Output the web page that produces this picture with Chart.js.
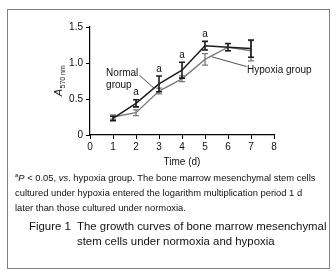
<!DOCTYPE html>
<html><head><meta charset="utf-8">
<script src="https://cdn.jsdelivr.net/npm/chart.js@4.4.0/dist/chart.umd.min.js"></script>
<style>
html,body{margin:0;padding:0;background:#fff;width:336px;height:272px;overflow:hidden;font-family:"Liberation Sans",Arial,sans-serif;}
#frame{position:absolute;left:7px;top:9px;width:321px;height:258px;border:1px solid #808080;}
canvas{position:absolute;left:0;top:0;}
.t{position:absolute;white-space:nowrap;color:#111;}
#foot{left:15px;top:170px;font-size:9.4px;line-height:15px;}
#foot sup{font-size:6px;vertical-align:4px;line-height:0;}
#cap1{left:29px;top:219px;font-size:11.4px;line-height:15px;}
#cap2{left:77px;top:219px;font-size:11.4px;line-height:15px;}
</style></head>
<body>
<div id="frame"></div>
<canvas id="c" width="336" height="272"></canvas>
<div class="t" id="foot"><sup>a</sup><i>P</i> &lt; 0.05, <i>vs</i>. hypoxia group. The bone marrow mesenchymal stem cells<br>cultured under hypoxia entered the logarithm multiplication period 1 d<br>later than those cultured under normoxia.</div>
<div class="t" id="cap1">Figure 1</div>
<div class="t" id="cap2">The growth curves of bone marrow mesenchymal<br>stem cells under normoxia and hypoxia</div>
<script>
const days = [1, 2, 3, 4, 5, 6, 7];
const normalMean = [0.23, 0.44, 0.71, 0.90, 1.24, 1.22, 1.20];
const normalErr  = [0.03, 0.05, 0.11, 0.11, 0.06, 0.05, 0.12];
const hypoxiaMean = [0.25, 0.31, 0.61, 0.78, 1.05, 1.22, 1.17];
const hypoxiaErr  = [0.03, 0.04, 0.04, 0.04, 0.08, 0.05, 0.14];
const sigDays = [2, 3, 4, 5];
const xTicks = [0, 1, 2, 3, 4, 5, 6, 7, 8];
const yTicks = [0, 0.5, 1.0, 1.5];
const labelNotes = [
  {text: ['Normal', 'group'], x: 0.7, y: 0.86, from: [2.15, 0.83], to: [2.78, 0.65]},
  {text: ['Hypoxia group'], x: 6.83, y: 0.90, from: [5.29, 1.087], to: [6.81, 0.95]}
];

const NORMAL_C = '#1c1c1c', HYP_C = '#7a7a7a';

const errPlugin = {
  id: 'err',
  afterDatasetsDraw(chart) {
    const xs = chart.scales.x, ys = chart.scales.y, ctx = chart.ctx;
    const sets = [[hypoxiaMean, hypoxiaErr, HYP_C, 1.3], [normalMean, normalErr, NORMAL_C, 1.6]];
    ctx.save();
    sets.forEach(([m, e, col, lw]) => {
      ctx.strokeStyle = col; ctx.lineWidth = lw;
      days.forEach((d, i) => {
        const x = xs.getPixelForValue(d);
        const t = ys.getPixelForValue(m[i] + e[i]);
        const b = ys.getPixelForValue(m[i] - e[i]);
        ctx.beginPath();
        ctx.moveTo(x, t); ctx.lineTo(x, b);
        ctx.moveTo(x - 3, t); ctx.lineTo(x + 3, t);
        ctx.moveTo(x - 3, b); ctx.lineTo(x + 3, b);
        ctx.stroke();
      });
    });
    ctx.fillStyle = '#111';
    ctx.font = '10px "Liberation Sans", Arial, sans-serif';
    ctx.textAlign = 'center'; ctx.textBaseline = 'middle';
    sigDays.forEach(d => {
      const i = days.indexOf(d);
      const x = xs.getPixelForValue(d);
      const t = ys.getPixelForValue(normalMean[i] + normalErr[i]);
      ctx.fillText('a', x, t - 7);
    });
    ctx.textAlign = 'left';
    ctx.strokeStyle = '#222'; ctx.lineWidth = 0.8;
    labelNotes.forEach(n => {
      n.text.forEach((s, k) => ctx.fillText(s, xs.getPixelForValue(n.x), ys.getPixelForValue(n.y) + k * 12.5));
      ctx.beginPath();
      ctx.moveTo(xs.getPixelForValue(n.from[0]), ys.getPixelForValue(n.from[1]));
      ctx.lineTo(xs.getPixelForValue(n.to[0]), ys.getPixelForValue(n.to[1]));
      ctx.stroke();
    });
    const cy = (chart.chartArea.top + chart.chartArea.bottom) / 2;
    ctx.translate(58, cy);
    ctx.rotate(-Math.PI / 2);
    ctx.textBaseline = 'alphabetic';
    ctx.font = 'italic 11px "Liberation Sans", Arial, sans-serif';
    const wA = ctx.measureText('A').width;
    ctx.font = '7px "Liberation Sans", Arial, sans-serif';
    const wS = ctx.measureText('570 nm').width;
    const x0 = -(wA + wS) / 2;
    ctx.font = 'italic 11px "Liberation Sans", Arial, sans-serif';
    ctx.fillText('A', x0, 4);
    ctx.font = '7px "Liberation Sans", Arial, sans-serif';
    ctx.fillText('570 nm', x0 + wA + 0.5, 6.5);
    ctx.restore();
  }
};

new Chart(document.getElementById('c'), {
  type: 'line',
  data: {
    datasets: [
      {label: 'Normal group', data: days.map((d, i) => ({x: d, y: normalMean[i]})), borderColor: NORMAL_C, borderWidth: 1.5, pointRadius: 0, tension: 0},
      {label: 'Hypoxia group', data: days.map((d, i) => ({x: d, y: hypoxiaMean[i]})), borderColor: HYP_C, borderWidth: 1.3, pointRadius: 0, tension: 0}
    ]
  },
  options: {
    responsive: false, animation: false, devicePixelRatio: 1,
    layout: {padding: {left: 0, right: 62, top: 27, bottom: 100}},
    plugins: {legend: {display: false}, tooltip: {enabled: false}},
    scales: {
      x: {
        type: 'linear', min: 0, max: 8,
        afterBuildTicks: s => { s.ticks = xTicks.map(v => ({value: v})); },
        afterFit: s => { s.height = 37; },
        ticks: {color: '#111', font: {size: 10, family: '"Liberation Sans", Arial'}, padding: 2, maxRotation: 0},
        grid: {drawOnChartArea: false, tickLength: 4, color: '#000', lineWidth: 1},
        border: {color: '#000', width: 1.2},
        title: {display: true, text: 'Time (d)', color: '#111', font: {size: 10, family: '"Liberation Sans", Arial'}}
      },
      y: {
        min: 0, max: 1.5,
        afterBuildTicks: s => { s.ticks = yTicks.map(v => ({value: v})); },
        afterFit: s => { s.width = 90; },
        ticks: {color: '#111', font: {size: 10, family: '"Liberation Sans", Arial'}, padding: 3,
          callback: v => v === 0 ? '0' : v.toFixed(1)},
        grid: {drawOnChartArea: false, tickLength: 4, color: '#000', lineWidth: 1},
        border: {color: '#000', width: 1.2}
      }
    }
  },
  plugins: [errPlugin]
});
</script>
</body></html>
